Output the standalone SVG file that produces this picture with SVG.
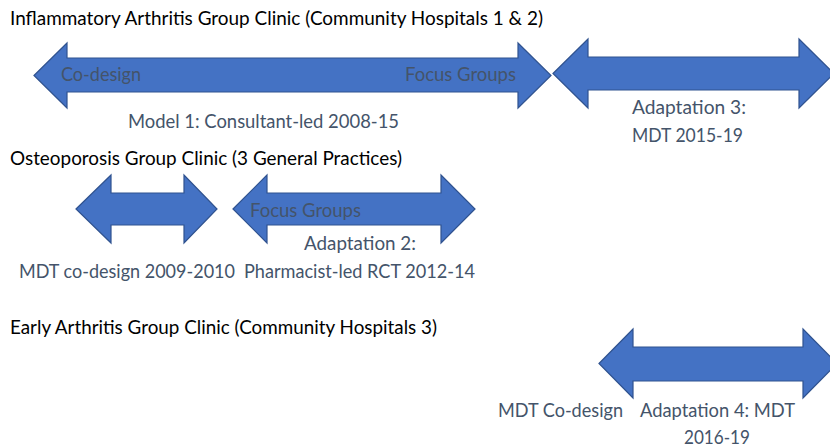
<svg xmlns="http://www.w3.org/2000/svg" width="830" height="448" viewBox="0 0 830 448">
<style>
.arr{fill:#4472C4;stroke:#2F528F;stroke-width:1.2;stroke-linejoin:miter}
text{font-family:Lato,"Liberation Sans",sans-serif;font-size:18.5px}
.t{fill:#000}
.l{fill:#44546A}
</style>
<rect width="830" height="448" fill="#fff"/>
<g id="titles">
<text class="t" x="10" y="25" textLength="533" lengthAdjust="spacingAndGlyphs">Inflammatory Arthritis Group Clinic (Community Hospitals 1 &amp; 2)</text>
<text class="t" x="10" y="165" textLength="392" lengthAdjust="spacingAndGlyphs">Osteoporosis Group Clinic (3 General Practices)</text>
<text class="t" x="10" y="334" textLength="427" lengthAdjust="spacingAndGlyphs">Early Arthritis Group Clinic (Community Hospitals 3)</text>
</g>
<g id="connectors">
<g id="arrow-model1">
<path class="arr" d="M34,75.5 L67,43 L67,58 L518,58 L518,43 L551,75.5 L518,108 L518,92 L67,92 L67,108 Z"/>
<text class="l" x="61" y="81" textLength="80" lengthAdjust="spacingAndGlyphs">Co-design</text>
<text class="l" x="405" y="81" textLength="111" lengthAdjust="spacingAndGlyphs">Focus Groups</text>
<text class="l" x="128" y="128" textLength="271" lengthAdjust="spacingAndGlyphs">Model 1: Consultant-led 2008-15</text>
</g>
<g id="arrow-adapt3">
<path class="arr" d="M553,73.5 L588,39 L588,57 L799,57 L799,39 L834,73.5 L799,108 L799,90 L588,90 L588,108 Z"/>
<text class="l" x="632" y="114" textLength="114" lengthAdjust="spacingAndGlyphs">Adaptation 3:</text>
<text class="l" x="632" y="142" textLength="111" lengthAdjust="spacingAndGlyphs">MDT 2015-19</text>
</g>
<g id="arrow-osteo-codesign">
<path class="arr" d="M76,209 L111,175 L111,193 L184,193 L184,175 L217,209 L184,243 L184,225 L111,225 L111,243 Z"/>
<text class="l" x="19" y="278" textLength="216" lengthAdjust="spacingAndGlyphs">MDT co-design 2009-2010</text>
</g>
<g id="arrow-adapt2">
<path class="arr" d="M233,209 L267,175 L267,193 L441,193 L441,175 L475,209 L441,243 L441,225 L267,225 L267,243 Z"/>
<text class="l" x="250" y="217" textLength="111" lengthAdjust="spacingAndGlyphs">Focus Groups</text>
<text class="l" x="304" y="250" textLength="112" lengthAdjust="spacingAndGlyphs">Adaptation 2:</text>
<text class="l" x="244" y="278" textLength="231" lengthAdjust="spacingAndGlyphs">Pharmacist-led RCT 2012-14</text>
</g>
<g id="arrow-adapt4">
<path class="arr" d="M599,363.5 L633,329 L633,347 L803,347 L803,329 L837,363.5 L803,398 L803,381 L633,381 L633,398 Z"/>
<text class="l" x="498" y="417" textLength="125" lengthAdjust="spacingAndGlyphs">MDT Co-design</text>
<text class="l" x="640" y="417" textLength="155" lengthAdjust="spacingAndGlyphs">Adaptation 4: MDT</text>
<text class="l" x="684" y="444" textLength="66" lengthAdjust="spacingAndGlyphs">2016-19</text>
</g>
</g>
</svg>
